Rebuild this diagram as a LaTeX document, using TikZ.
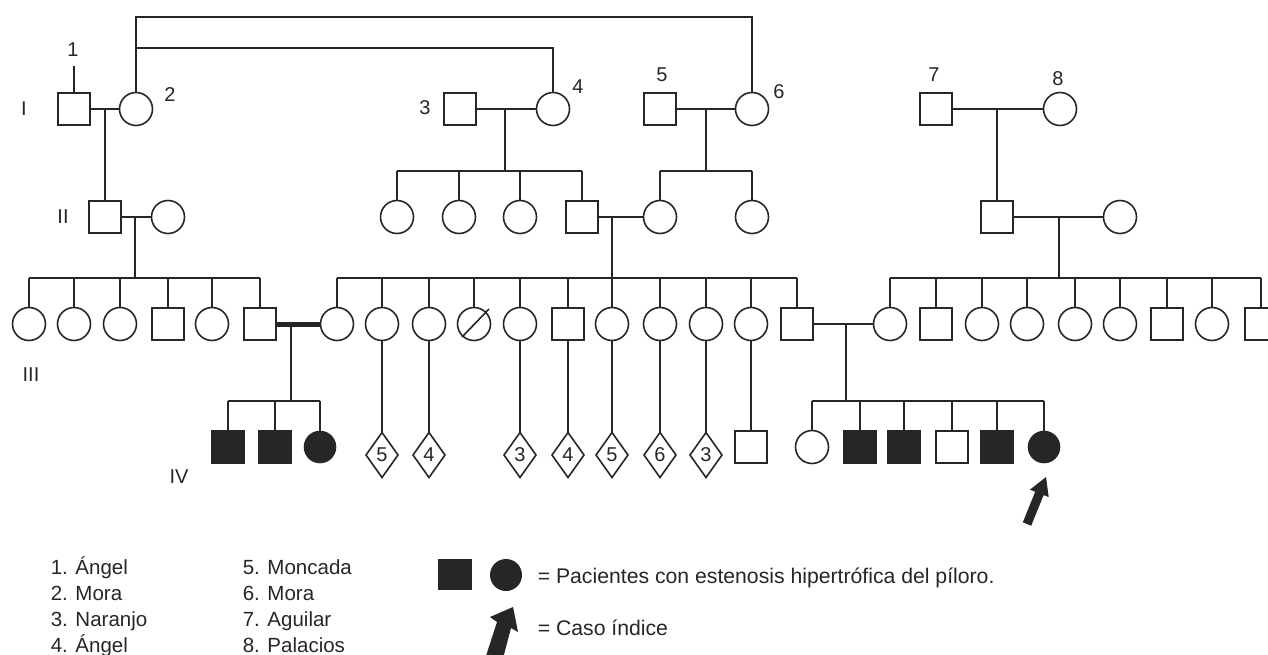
\documentclass[tikz,border=0pt]{standalone}
\usepackage{fontspec}
\setmainfont{Liberation Sans}
\usetikzlibrary{shapes.geometric}
\definecolor{ink}{gray}{0.15}
\newcommand{\fsz}{\fontsize{20}{24}\selectfont}
\newcommand{\fszl}{\fontsize{20.5}{24}\selectfont}
\newcommand{\fszr}{\fontsize{21.2}{25}\selectfont}
\begin{document}
\begin{tikzpicture}[x=1pt,y=-1pt,line width=1.6pt,color=ink,
  male/.style={draw,rectangle,minimum size=32pt,inner sep=0pt,outer sep=0pt},
  fem/.style={draw,circle,minimum size=33pt,inner sep=0pt,outer sep=0pt},
  aff/.style={fill=ink},
  dia/.style={draw,diamond,minimum width=32pt,minimum height=45pt,inner sep=0pt,outer sep=0pt,font=\fsz},
  lab/.style={font=\fsz,inner sep=0pt},
  keyl/.style={font=\fszl,inner sep=0pt,anchor=base west},
  keyr/.style={font=\fszr,inner sep=0pt,anchor=base west},
  consang/.style={line width=5pt}]
\useasboundingbox (0,0) rectangle (1268,655);

% ---------- Generation I ----------
\node[male] (I1) at (74,109) {};
\node[fem]  (I2) at (136,109) {};
\node[male] (I3) at (460,109) {};
\node[fem]  (I4) at (553,109) {};
\node[male] (I5) at (660,109) {};
\node[fem]  (I6) at (752,109) {};
\node[male] (I7) at (936,109) {};
\node[fem]  (I8) at (1060,109) {};
\node[lab] (n1) at (73,50) {1};
\node[lab] (n2) at (170,95) {2};
\node[lab] (n3) at (425,108) {3};
\node[lab] (n4) at (578,87) {4};
\node[lab] (n5) at (662,75) {5};
\node[lab] (n6) at (779,92) {6};
\node[lab] (n7) at (934,75) {7};
\node[lab] (n8) at (1058,79) {8};
\coordinate (t1) at (74,66);
\draw (t1) -- (I1.north);

% ---------- Generation labels ----------
\node[lab] (gI)   at (24,109) {I};
\node[lab] (gII)  at (63,217) {II};
\node[lab] (gIII) at (31,375) {III};
\node[lab] (gIV)  at (179,477) {IV};

% ---------- Generation II ----------
\node[male] (II1) at (105,217) {};
\node[fem]  (II2) at (168,217) {};
\node[fem]  (IIa) at (397,217) {};
\node[fem]  (IIb) at (459,217) {};
\node[fem]  (IIc) at (520,217) {};
\node[male] (II3) at (582,217) {};
\node[fem]  (II4) at (660,217) {};
\node[fem]  (IId) at (752,217) {};
\node[male] (II5) at (997,217) {};
\node[fem]  (II6) at (1120,217) {};

% ---------- Generation III ----------
\foreach \n/\x/\s in {L1/29/fem,L2/74/fem,L3/120/fem,L4/168/male,L5/212/fem,L6/260/male,
  M1/337/fem,M2/382/fem,M3/429/fem,M4/474/fem,M5/520/fem,M6/568/male,M7/612/fem,
  M8/660/fem,M9/706/fem,M10/751/fem,M11/797/male,
  R1/890/fem,R2/936/male,R3/982/fem,R4/1027/fem,R5/1075/fem,R6/1120/fem,R7/1167/male,
  R8/1212/fem,R9/1261/male}
  \node[\s] (\n) at (\x,324) {};
\draw ([shift={(-12,13)}]M4.center) -- ([shift={(15,-15)}]M4.center);

% ---------- Generation IV ----------
\node[male,aff] (A1) at (228,447) {};
\node[male,aff] (A2) at (275,447) {};
\node[fem,aff,minimum size=31pt]  (A3) at (320,447) {};
\node[dia] (D1) at (382,455) {5};
\node[dia] (D2) at (429,455) {4};
\node[dia] (D3) at (520,455) {3};
\node[dia] (D4) at (568,455) {4};
\node[dia] (D5) at (612,455) {5};
\node[dia] (D6) at (660,455) {6};
\node[dia] (D7) at (706,455) {3};
\node[male] (Q1) at (751,447) {};
\node[fem]  (P1) at (812,447) {};
\node[male,aff] (P2) at (860,447) {};
\node[male,aff] (P3) at (904,447) {};
\node[male]     (P4) at (952,447) {};
\node[male,aff] (P5) at (997,447) {};
\node[fem,aff,minimum size=31pt] (P6) at (1044,447) {};

% ---------- consanguinity lines ----------
\coordinate (top1) at (0,17);
\coordinate (top2) at (0,48);
\draw (I2.north) -- (I2.north |- top1) -| (I6.north);
\draw (I2.north |- top2) -| (I4.north);

% ---------- marriages and descents ----------
\draw (I1.east) -- (I2.west);
\coordinate (m1) at (105,109);
\draw (m1) -- (II1.north);

\draw (I3.east) -- (I4.west);
\coordinate (m2) at (505,109); \coordinate (s2) at (505,171);
\draw (m2) -- (s2);
\draw (IIa.north |- s2) -- (II3.north |- s2);
\foreach \c in {IIa,IIb,IIc,II3} \draw (\c.north) -- (\c.north |- s2);

\draw (I5.east) -- (I6.west);
\coordinate (m3) at (706,109); \coordinate (s3) at (706,171);
\draw (m3) -- (s3);
\draw (II4.north |- s3) -- (IId.north |- s3);
\foreach \c in {II4,IId} \draw (\c.north) -- (\c.north |- s3);

\draw (I7.east) -- (I8.west);
\coordinate (m4) at (997,109);
\draw (m4) -- (II5.north);

\draw (II1.east) -- (II2.west);
\coordinate (m5) at (135,217); \coordinate (s5) at (135,278);
\draw (m5) -- (s5);
\draw (L1.north |- s5) -- (L6.north |- s5);
\foreach \c in {L1,L2,L3,L4,L5,L6} \draw (\c.north) -- (\c.north |- s5);

\draw (II3.east) -- (II4.west);
\coordinate (m6) at (612,217); \coordinate (s6) at (612,278);
\draw (m6) -- (s6);
\draw (M1.north |- s6) -- (M11.north |- s6);
\foreach \c in {M1,M2,M3,M4,M5,M6,M7,M8,M9,M10,M11} \draw (\c.north) -- (\c.north |- s6);

\draw (II5.east) -- (II6.west);
\coordinate (m7) at (1059,217); \coordinate (s7) at (1059,278);
\draw (m7) -- (s7);
\draw (R1.north |- s7) -- (R9.north |- s7);
\foreach \c in {R1,R2,R3,R4,R5,R6,R7,R8,R9} \draw (\c.north) -- (\c.north |- s7);

\draw[consang] (L6.east) -- (M1.west);
\coordinate (m8) at (291,324); \coordinate (s8) at (291,401);
\draw (m8) -- (s8);
\draw (A1.north |- s8) -- (A3.north |- s8);
\foreach \c in {A1,A2,A3} \draw (\c.north) -- (\c.north |- s8);

\draw (M11.east) -- (R1.west);
\coordinate (m9) at (846,324); \coordinate (s9) at (846,401);
\draw (m9) -- (s9);
\draw (P1.north |- s9) -- (P6.north |- s9);
\foreach \c in {P1,P2,P3,P4,P5,P6} \draw (\c.north) -- (\c.north |- s9);

\draw (M2.south) -- (D1.north);
\draw (M3.south) -- (D2.north);
\draw (M5.south) -- (D3.north);
\draw (M6.south) -- (D4.north);
\draw (M7.south) -- (D5.north);
\draw (M8.south) -- (D6.north);
\draw (M9.south) -- (D7.north);
\draw (M10.south) -- (Q1.north);

% ---------- proband arrow ----------
\fill (1022.8,522.3) -- (1035.2,491.7) -- (1030,489.6) -- (1046,477) -- (1048.7,497.1) -- (1043.6,495.1) -- (1031.2,525.7) -- cycle;

% ---------- legend ----------
\node[keyl] (k1) at (50,574) {1. Ángel};
\node[keyl] (k2) at (50,600) {2. Mora};
\node[keyl] (k3) at (50,626) {3. Naranjo};
\node[keyl] (k4) at (50,652) {4. Ángel};
\node[keyl] (k5) at (242,574) {5. Moncada};
\node[keyl] (k6) at (242,600) {6. Mora};
\node[keyl] (k7) at (242,626) {7. Aguilar};
\node[keyl] (k8) at (242,652) {8. Palacios};

\node[rectangle,fill=ink,minimum width=34pt,minimum height=31pt,inner sep=0pt] (lsq) at (455,574) {};
\node[circle,fill=ink,minimum size=32pt,inner sep=0pt] (lci) at (506,575) {};
\node[keyr] (lt1) at (537,583) {= Pacientes con estenosis hipertrófica del píloro.};
\fill (484,662) -- (497,622) -- (490,617) -- (513,607) -- (518,632) -- (511,628) -- (502,662) -- cycle;
\node[keyr] (lt2) at (537,635) {= Caso índice};
\end{tikzpicture}
\end{document}
